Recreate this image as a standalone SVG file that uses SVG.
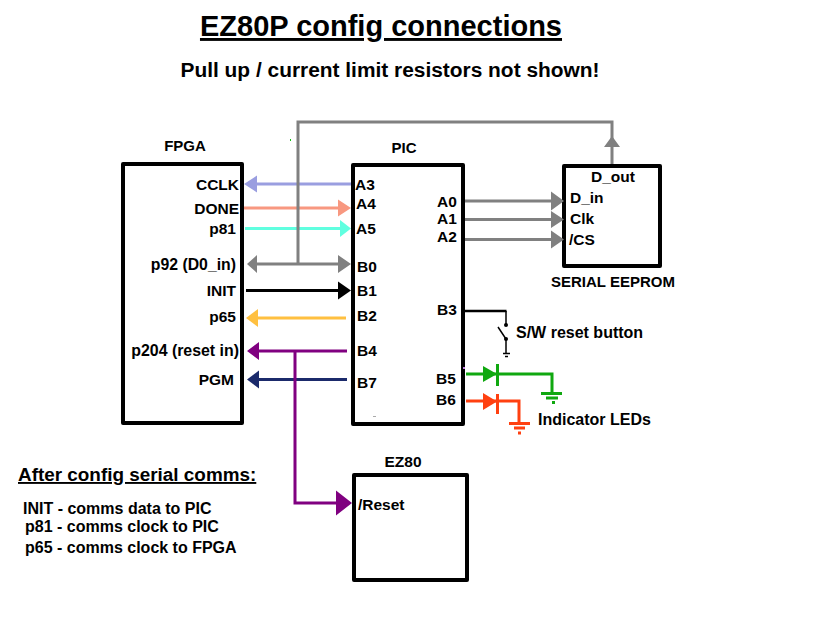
<svg xmlns="http://www.w3.org/2000/svg" width="820" height="632" viewBox="0 0 820 632">
<style>
text{font-family:"Liberation Sans",Arial,sans-serif;font-weight:bold;font-size:15.500px;fill:#000}
.box{fill:#fff;stroke:#000;stroke-width:4;stroke-linejoin:round}
.w{fill:none;stroke-width:3}
.e{text-anchor:end}
.m{text-anchor:middle}
.l{font-size:16px}
</style>
<rect width="820" height="632" fill="#fff"/>
<text x="381" y="36" class="m" style="font-size:29px;text-decoration:underline">EZ80P config connections</text>
<text x="390" y="77" class="m" style="font-size:20.900px">Pull up / current limit resistors not shown!</text>
<g id="fpga"><rect class="box" x="123" y="164" width="119" height="259"/>
<text x="185" y="151" class="m" style="font-size:15px">FPGA</text>
<text x="239" y="190" class="e">CCLK</text><text x="239" y="214" class="e">DONE</text><text x="236" y="234" class="e">p81</text>
<text x="236" y="270" class="e" style="font-size:15.800px">p92 (D0_in)</text><text x="236" y="296" class="e">INIT</text><text x="236" y="322" class="e">p65</text>
<text x="239" y="356" class="e" style="font-size:15.900px">p204 (reset in)</text><text x="234" y="385" class="e">PGM</text></g>
<g id="pic"><rect class="box" x="353" y="165" width="110" height="259"/>
<text x="404" y="153" class="m" style="font-size:15px">PIC</text>
<text x="355" y="190">A3</text><text x="356" y="209">A4</text><text x="356" y="234">A5</text>
<text x="357" y="272">B0</text><text x="357" y="296">B1</text><text x="357" y="321">B2</text><text x="357" y="356">B4</text><text x="357" y="388">B7</text>
<text x="437" y="207">A0</text><text x="437" y="224">A1</text><text x="437" y="242">A2</text>
<text x="437" y="315">B3</text><text x="436" y="384">B5</text><text x="436" y="405">B6</text></g>
<g id="eeprom"><rect class="box" x="564" y="166" width="96" height="100"/>
<text x="613" y="182" class="m">D_out</text><text x="570" y="203">D_in</text><text x="570" y="224">Clk</text><text x="569" y="245">/CS</text>
<text x="613" y="287" class="m" style="font-size:15px">SERIAL EEPROM</text></g>
<g id="ez80"><rect class="box" x="354" y="475" width="113" height="105"/>
<text x="403" y="467" class="m">EZ80</text><text x="358" y="510">/Reset</text></g>
<g id="connectors">
<path class="w" stroke="#9a9ee0" d="M351 184H256"/><path fill="#9a9ee0" d="M244 184l13-8.500v17z"/>
<path class="w" stroke="#f89880" d="M244 208H340"/><path fill="#f89880" d="M351 208l-13-8.500v17z"/>
<path class="w" stroke="#60ffe0" d="M245 228.500H342"/><path fill="#60ffe0" d="M351 228.500l-11-8.500v17z"/>
<path class="w" stroke="#808080" d="M255 264H340M298 264V122H612V164"/>
<path fill="#808080" d="M247 264l10-9v18zM351 264l-13-9v18zM612 136l8 11h-16z"/>
<path class="w" stroke="#000" d="M246 290.500H340"/><path fill="#000" d="M351 290.500l-13-9v18z"/>
<path class="w" stroke="#ffc040" d="M255 318H346"/><path fill="#ffc040" d="M246 318l12-9v18z"/>
<path class="w" stroke="#1b2a6b" d="M255 379.500H347"/><path fill="#1b2a6b" d="M247 379.500l12-9v18z"/>
<path class="w" stroke="#800080" d="M255 351H347M295 351V503H340"/><path fill="#800080" d="M247 351l12-9v18zM352 503l-16-12.500v25z"/>
<path class="w" stroke="#808080" d="M465 201H553M465 219.500H553M465 239.500H553"/>
<path fill="#808080" d="M564 201l-13-9.500v19zM564 219.500l-13-8.500v17zM564 239.500l-13-9v18z"/>
<path fill="none" stroke="#000" stroke-width="2.500" d="M465 311H506.500"/><path fill="none" stroke="#000" stroke-width="1.500" d="M506 311V325M498 327L506 339V353M503 353.500H510M505 356.500H508"/>
<circle cx="506" cy="325" r="2"/><circle cx="506" cy="339" r="2"/>
<path fill="none" stroke="#10a810" stroke-width="3" d="M466 374H552V393M541 393.500H562M546 398H558M552 402.500H555"/><path fill="#10a810" d="M483 366l14 8-14 8z"/><rect x="496" y="364" width="3" height="22" fill="#10a810"/>
<path fill="none" stroke="#ff4010" stroke-width="3" d="M466 401H519V423M509 423.500H530M514 428H525M518 433H521"/><path fill="#ff4010" d="M483 393l14 8.500-14 8.500z"/><rect x="496" y="394" width="3" height="20" fill="#ff4010"/>
</g>
<text x="516" y="338" class="l">S/W reset button</text>
<text x="538" y="425" class="l">Indicator LEDs</text>
<text x="18" y="481" style="font-size:18.900px;text-decoration:underline">After config serial comms:</text>
<text x="23" y="514" class="l">INIT - comms data to PIC</text>
<text x="25" y="532" class="l">p81 - comms clock to PIC</text>
<text x="25" y="553" class="l">p65 - comms clock to FPGA</text>
<rect x="290" y="139" width="1" height="2" fill="#10c010"/><rect x="463" y="367" width="2" height="2" fill="#c080e0"/><rect x="373" y="416" width="3" height="1" fill="#aaa"/>
</svg>
